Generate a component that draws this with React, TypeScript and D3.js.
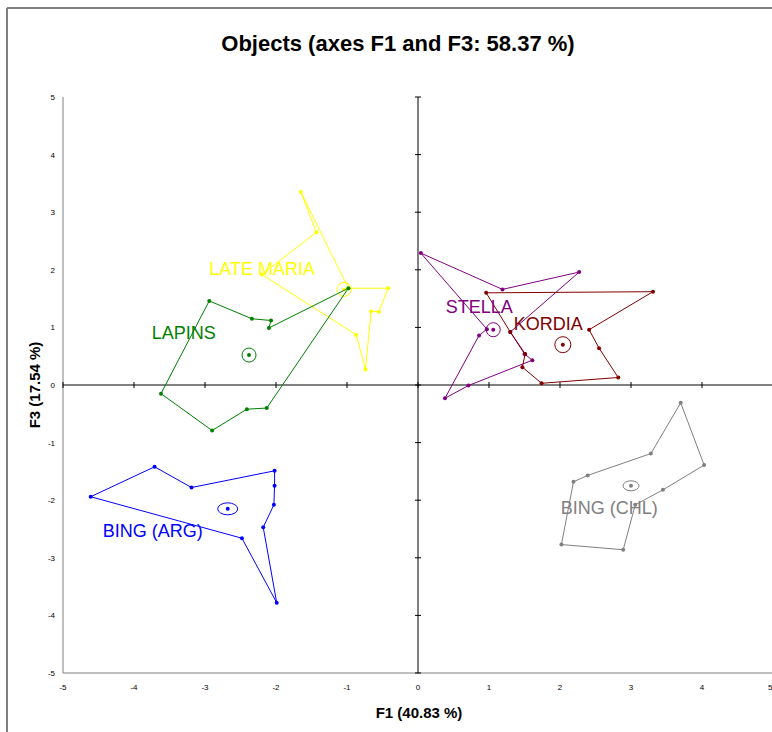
import React from "react";
import * as d3 from "d3";

const groups = ["LATE MARIA", "LAPINS", "STELLA", "KORDIA", "BING (ARG)", "BING (CHL)"];
const colors = ["#ffff00", "#008000", "#800080", "#800000", "#0000ff", "#808080"];

const lateMariaF1 = [-1.65, -1.43, -2.2, -0.87, -0.74, -0.66, -0.55, -0.42, -0.98];
const lateMariaF3 = [3.35, 2.65, 1.92, 0.87, 0.27, 1.28, 1.27, 1.68, 1.68];

const lapinsF1 = [-2.94, -2.34, -2.07, -2.1, -0.98, -2.13, -2.41, -2.9, -3.62];
const lapinsF3 = [1.46, 1.15, 1.12, 0.99, 1.68, -0.4, -0.42, -0.79, -0.15];

const stellaF1 = [0.04, 1.19, 2.27, 1.3, 1.5, 1.61, 0.71, 0.38, 0.86, 0.97];
const stellaF3 = [2.29, 1.66, 1.96, 0.92, 0.54, 0.43, -0.01, -0.23, 0.86, 0.97];

const kordiaF1 = [0.96, 1.3, 1.51, 1.47, 1.74, 2.82, 2.55, 2.41, 3.31];
const kordiaF3 = [1.6, 0.92, 0.54, 0.31, 0.03, 0.13, 0.64, 0.96, 1.62];

const bingArgF1 = [-4.61, -3.71, -3.19, -2.02, -2.02, -2.03, -2.18, -1.99, -2.48];
const bingArgF3 = [-1.94, -1.42, -1.78, -1.49, -1.75, -2.08, -2.47, -3.78, -2.66];

const bingChlF1 = [3.7, 4.03, 3.45, 3.06, 2.89, 2.02, 2.19, 2.39, 3.28];
const bingChlF3 = [-0.31, -1.39, -1.82, -2.08, -2.86, -2.77, -1.68, -1.57, -1.19];

const centroidF1 = [-1.04, -2.38, 1.06, 2.04, -2.68, 3.0];
const centroidF3 = [1.66, 0.52, 0.96, 0.7, -2.15, -1.75];

const labelF1 = [-2.94, -3.75, 0.39, 1.35, -4.44, 2.01];
const labelF3 = [1.91, 0.8, 1.25, 0.95, -2.64, -2.24];

const ticks = [-5, -4, -3, -2, -1, 0, 1, 2, 3, 4, 5];

const groupF1 = [lateMariaF1, lapinsF1, stellaF1, kordiaF1, bingArgF1, bingChlF1];
const groupF3 = [lateMariaF3, lapinsF3, stellaF3, kordiaF3, bingArgF3, bingChlF3];

const ellipseR = [
  [7, 7],
  [7, 7],
  [7, 7],
  [8, 8],
  [10, 6],
  [8, 5],
];

export default function App() {
  const x = d3.scaleLinear().domain([-5, 5]).range([63, 773]);
  const y = d3.scaleLinear().domain([-5, 5]).range([673, 97]);
  const line = d3
    .line<[number, number]>()
    .x((d) => x(d[0]))
    .y((d) => y(d[1]))
    .curve(d3.curveLinearClosed);

  const font = "'Liberation Sans', Arial, sans-serif";

  return (
    <svg
      width={772}
      height={732}
      style={{ position: "absolute", left: 0, top: 0, background: "#fff" }}
      fontFamily={font}
    >
      <rect x={0} y={0} width={772} height={732} fill="#fff" />
      {/* outer frame */}
      <line x1={7} y1={8} x2={772} y2={8} stroke="#808080" strokeWidth={2} />
      <line x1={7} y1={8} x2={7} y2={732} stroke="#808080" strokeWidth={2} />

      <text x={398} y={51} textAnchor="middle" fontSize={22} fontWeight="bold" fill="#000">
        Objects (axes F1 and F3: 58.37 %)
      </text>

      {/* plot border */}
      <line x1={x(-5)} y1={y(5)} x2={x(-5)} y2={y(-5)} stroke="#808080" strokeWidth={1} />
      <line x1={x(-5)} y1={y(-5)} x2={772} y2={y(-5)} stroke="#808080" strokeWidth={1} />

      {/* central axes */}
      <line x1={x(-5)} y1={y(0)} x2={772} y2={y(0)} stroke="#000" strokeWidth={1} />
      <line x1={x(0)} y1={y(5)} x2={x(0)} y2={y(-5)} stroke="#000" strokeWidth={1} />
      {ticks.map((t) => (
        <g key={"t" + t}>
          <line x1={x(t)} x2={x(t)} y1={y(0) - 3} y2={y(0) + 3} stroke="#000" />
          <line x1={x(0) - 3} x2={x(0) + 3} y1={y(t)} y2={y(t)} stroke="#000" />
        </g>
      ))}

      {/* tick labels */}
      {ticks.map((t) => (
        <text key={"yl" + t} x={55} y={y(t) + 3} textAnchor="end" fontSize={8} fill="#000">
          {t}
        </text>
      ))}
      {ticks.map((t) => (
        <text
          key={"xl" + t}
          x={t === 5 ? 768 : x(t)}
          y={690}
          textAnchor={t === 5 ? "start" : "middle"}
          fontSize={8}
          fill="#000"
        >
          {t}
        </text>
      ))}

      <text x={419} y={718} textAnchor="middle" fontSize={15} fontWeight="bold" fill="#000">
        F1 (40.83 %)
      </text>
      <text
        transform={`translate(40, 385) rotate(-90)`}
        textAnchor="middle"
        fontSize={15}
        fontWeight="bold"
        fill="#000"
      >
        F3 (17.54 %)
      </text>

      {groups.map((g, i) => {
        const pts: [number, number][] = groupF1[i].map((v, j) => [v, groupF3[i][j]]);
        return (
          <g key={g}>
            <path d={line(pts) || ""} fill="none" stroke={colors[i]} strokeWidth={1} />
            {pts.map((p, j) => (
              <circle key={j} cx={x(p[0])} cy={y(p[1])} r={2} fill={colors[i]} />
            ))}
            <ellipse
              cx={x(centroidF1[i])}
              cy={y(centroidF3[i])}
              rx={ellipseR[i][0]}
              ry={ellipseR[i][1]}
              fill="none"
              stroke={colors[i]}
              strokeWidth={1}
            />
            <circle cx={x(centroidF1[i])} cy={y(centroidF3[i])} r={2} fill={colors[i]} />
          </g>
        );
      })}
      {groups.map((g, i) => (
        <text key={"lab" + g} x={x(labelF1[i])} y={y(labelF3[i])} fontSize={18} fill={colors[i]}>
          {g}
        </text>
      ))}
    </svg>
  );
}
